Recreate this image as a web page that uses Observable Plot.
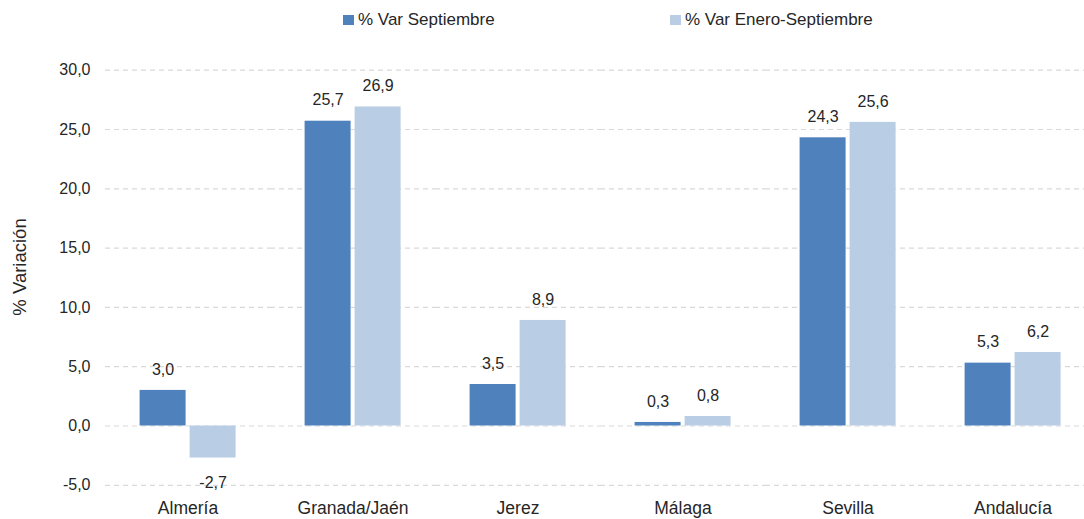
<!DOCTYPE html>
<html><head><meta charset="utf-8">
<script src="https://cdn.jsdelivr.net/npm/d3@7"></script>
<script src="https://cdn.jsdelivr.net/npm/@observablehq/plot@0.6"></script>
<style>
body{margin:0;background:#fff;font-family:"Liberation Sans",Arial,sans-serif;color:#262626;overflow:hidden}
#wrap{position:relative;width:1084px;height:519px}
#legend{position:relative;height:40px}
.item{position:absolute;top:0;height:40px;display:flex;align-items:center;font-size:17px;white-space:nowrap}
.sw{width:11px;height:10px;margin-right:4px}
#ylab{position:absolute;left:19.5px;top:267px;transform:translate(-50%,-50%) rotate(-90deg);font-size:18.5px;white-space:nowrap}
svg{display:block}
</style></head><body>
<div id="wrap">
<div id="legend"></div>
<div id="ylab">% Variación</div>
<div id="chart"></div>
</div>
<script>
const categories = ["Almería", "Granada/Jaén", "Jerez", "Málaga", "Sevilla", "Andalucía"];
const series = ["% Var Septiembre", "% Var Enero-Septiembre"];
const varSeptiembre = [3.0, 25.7, 3.5, 0.3, 24.3, 5.3];
const varEneroSeptiembre = [-2.7, 26.9, 8.9, 0.8, 25.6, 6.2];
const yTicks = [-5, 0, 5, 10, 15, 20, 25, 30];
const colors = ["#4F81BD", "#B9CDE5"];
const legendLeft = [343, 670];

const data = categories.flatMap((c, i) => [
  {cat: c, series: series[0], value: varSeptiembre[i]},
  {cat: c, series: series[1], value: varEneroSeptiembre[i]}
]);
const fmt = v => v.toFixed(1).replace(".", ",");

const legend = document.getElementById("legend");
series.forEach((s, i) => {
  const it = document.createElement("div");
  it.className = "item";
  it.style.left = legendLeft[i] + "px";
  const sw = document.createElement("span");
  sw.className = "sw";
  sw.style.background = colors[i];
  it.appendChild(sw);
  it.appendChild(document.createTextNode(s));
  legend.appendChild(it);
});

const chart = Plot.plot({
  width: 1084,
  height: 479,
  marginTop: 29.7,
  marginBottom: 34.2,
  marginLeft: 104.4,
  marginRight: 0,
  style: {fontFamily: "'Liberation Sans', Arial, sans-serif", fontSize: "16px", color: "#262626", background: "#fff"},
  fx: {domain: categories, range: [104.4, 1095.9], paddingInner: 0, paddingOuter: 0, label: null},
  x: {domain: series, paddingInner: 0.079, paddingOuter: 0.676, axis: null},
  y: {domain: [-5, 30], axis: null},
  color: {domain: series, range: colors},
  marks: [
    Plot.gridY(yTicks, {stroke: "#D9D9D9", strokeOpacity: 1, strokeWidth: 1.2, strokeDasharray: "5,4"}),
    Plot.barY(data, {fx: "cat", x: "series", y: "value", fill: "series"}),
    Plot.text(data, {filter: d => d.value >= 0, fx: "cat", x: "series", y: "value", text: d => fmt(d.value), dy: -21, fill: "#262626", fontSize: 16}),
    Plot.text(data, {filter: d => d.value < 0, fx: "cat", x: "series", y: "value", text: d => fmt(d.value), dy: 25, fill: "#262626", fontSize: 16}),
    Plot.axisY(yTicks, {tickSize: 0, tickPadding: 15, tickFormat: fmt, label: null, fill: "#262626", fontSize: 16}),
    Plot.axisFx({anchor: "bottom", tickSize: 0, tickPadding: 16, label: null, fill: "#262626", fontSize: 17.5})
  ]
});
document.getElementById("chart").appendChild(chart);
</script>
</body></html>
